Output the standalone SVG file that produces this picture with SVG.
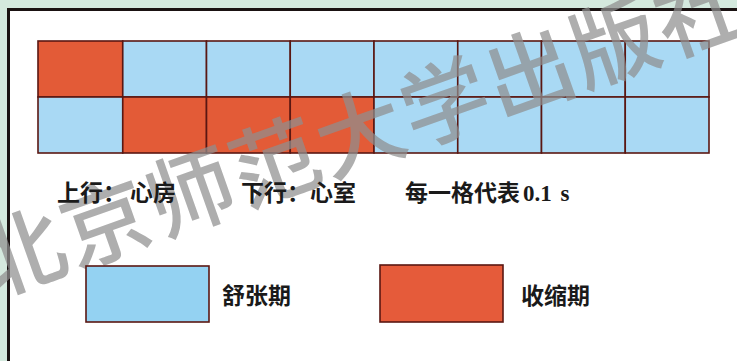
<svg xmlns="http://www.w3.org/2000/svg" width="737" height="361" viewBox="0 0 737 361">
<style>
.cell{stroke:#5a1712;stroke-width:1.6}
.r{fill:#e35b37}
.b{fill:#a9d9f4}
.lbl{font-family:"Noto Sans CJK SC","Liberation Sans",sans-serif;font-weight:bold;font-size:23px;fill:#1a1a1a}
.num{font-family:"Liberation Serif",serif;font-weight:bold;font-size:23px;fill:#1a1a1a}
.wm{font-family:"Noto Sans CJK SC",sans-serif;font-weight:500;font-size:88px;fill:#8f8f8f;opacity:0.72}
</style>
<rect x="0" y="0" width="737" height="361" fill="#d4e9de"/>
<rect x="8.5" y="9.5" width="740" height="360" fill="#ffffff" stroke="#1a1212" stroke-width="3"/>
<g id="grid">
<g id="row-atrium">
<rect class="cell r" x="38" y="41" width="84.75" height="56"/>
<rect class="cell b" x="122.75" y="41" width="83.75" height="56"/>
<rect class="cell b" x="206.5" y="41" width="83.75" height="56"/>
<rect class="cell b" x="290.25" y="41" width="83.75" height="56"/>
<rect class="cell b" x="374" y="41" width="83.75" height="56"/>
<rect class="cell b" x="457.75" y="41" width="83.75" height="56"/>
<rect class="cell b" x="541.5" y="41" width="83.75" height="56"/>
<rect class="cell b" x="625.25" y="41" width="83.75" height="56"/>
</g>
<g id="row-ventricle">
<rect class="cell b" x="38" y="97" width="84.75" height="56"/>
<rect class="cell r" x="122.75" y="97" width="83.75" height="56"/>
<rect class="cell r" x="206.5" y="97" width="83.75" height="56"/>
<rect class="cell r" x="290.25" y="97" width="83.75" height="56"/>
<rect class="cell b" x="374" y="97" width="83.75" height="56"/>
<rect class="cell b" x="457.75" y="97" width="83.75" height="56"/>
<rect class="cell b" x="541.5" y="97" width="83.75" height="56"/>
<rect class="cell b" x="625.25" y="97" width="83.75" height="56"/>
</g>
</g>
<g id="connectors"/>
<text class="wm" x="0" y="0" transform="translate(-10,298) rotate(-19.5)" letter-spacing="2">北京师范大学出版社</text>
<g id="caption">
<text class="lbl" x="57" y="201">上行：</text>
<text class="lbl" x="130" y="201">心房</text>
<text class="lbl" x="241" y="201">下行：</text>
<text class="lbl" x="310" y="201">心室</text>
<text class="lbl" x="405" y="201">每一格代表</text>
<text class="num" x="523" y="201" word-spacing="3">0.1 s</text>
</g>
<g id="legend-diastole">
<rect x="86" y="266" width="123" height="56" fill="#94d2f2" stroke="#5a1712" stroke-width="1.6"/>
<text class="lbl" x="222" y="304">舒张期</text>
</g>
<g id="legend-systole">
<rect x="380" y="265" width="123" height="57" fill="#e55b3a" stroke="#5a1712" stroke-width="1.6"/>
<text class="lbl" x="521" y="304">收缩期</text>
</g>
</svg>
